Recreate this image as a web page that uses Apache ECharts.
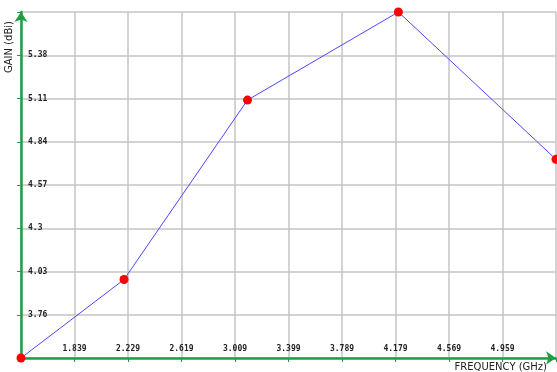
<!DOCTYPE html>
<html>
<head>
<meta charset="utf-8">
<script src="https://cdn.jsdelivr.net/npm/echarts@6/dist/echarts.min.js"></script>
<style>
  html, body { margin: 0; padding: 0; background: #fff; }
  #chart { width: 557px; height: 372px; }
</style>
</head>
<body>
<div id="chart"></div>
<script>
// Antenna gain measured against frequency
const frequencyGHz = [1.449, 2.2, 3.1, 4.2, 5.349];
const gainDbi = [3.49, 3.98, 5.10, 5.65, 4.73];

// Axis ticks (gridlines) and the labelled subset of them
const xTicks = [1.449, 1.839, 2.229, 2.619, 3.009, 3.399, 3.789, 4.179, 4.569, 4.959, 5.349];
const xTickLabels = [1.839, 2.229, 2.619, 3.009, 3.399, 3.789, 4.179, 4.569, 4.959];
const yTicks = [3.49, 3.76, 4.03, 4.3, 4.57, 4.84, 5.11, 5.38, 5.65];
const yTickLabels = [3.76, 4.03, 4.3, 4.57, 4.84, 5.11, 5.38];

const AXIS_GREEN = '#1f9e45';
const GRID_GREY = '#c4c4c4';
const labelFont = {
  fontFamily: 'DejaVu Sans Mono',
  fontSize: 8,
  fontWeight: 'bold',
  color: '#222'
};
const nameFont = {
  fontFamily: 'DejaVu Sans',
  fontSize: 10,
  color: '#222'
};

const chart = echarts.init(document.getElementById('chart'), null, { renderer: 'canvas' });

chart.setOption({
  animation: false,
  backgroundColor: '#fff',
  grid: { left: 21, right: 1, top: 12, bottom: 14, containLabel: false },
  xAxis: {
    type: 'value',
    min: xTicks[0],
    max: xTicks[xTicks.length - 1],
    name: 'FREQUENCY (GHz)',
    nameLocation: 'end',
    nameGap: -9,
    nameTextStyle: {
      ...nameFont,
      align: 'right',
      verticalAlign: 'top',
      padding: [4, 0, 0, 0]
    },
    axisLine: {
      show: true,
      symbol: ['none', 'arrow'],
      symbolSize: [10, 10],
      lineStyle: { color: AXIS_GREEN, width: 2.5 }
    },
    axisTick: {
      show: true,
      customValues: xTicks,
      length: 4,
      lineStyle: { color: AXIS_GREEN, width: 1 }
    },
    axisLabel: {
      customValues: xTickLabels,
      inside: true,
      margin: 5,
      ...labelFont
    },
    splitLine: { show: true, lineStyle: { color: GRID_GREY, width: 1.5 } }
  },
  yAxis: {
    type: 'value',
    min: yTicks[0],
    max: yTicks[yTicks.length - 1],
    name: 'GAIN (dBi)',
    nameLocation: 'end',
    nameGap: -9,
    nameRotate: 90,
    nameTextStyle: {
      ...nameFont,
      align: 'right',
      verticalAlign: 'bottom',
      padding: [0, 0, 7, 0]
    },
    axisLine: {
      show: true,
      symbol: ['none', 'arrow'],
      symbolSize: [10, 10],
      lineStyle: { color: AXIS_GREEN, width: 2.5 }
    },
    axisTick: {
      show: true,
      customValues: yTicks,
      length: 4,
      lineStyle: { color: AXIS_GREEN, width: 1 }
    },
    axisLabel: {
      customValues: yTickLabels,
      inside: true,
      margin: 7,
      ...labelFont
    },
    splitLine: { show: true, lineStyle: { color: GRID_GREY, width: 1.5 } }
  },
  series: [{
    type: 'line',
    data: frequencyGHz.map((f, i) => [f, gainDbi[i]]),
    clip: false,
    symbol: 'circle',
    symbolSize: 9,
    itemStyle: { color: '#ff0000' },
    lineStyle: { color: '#4a4aff', width: 1 },
    z: 5
  }]
});
</script>
</body>
</html>
